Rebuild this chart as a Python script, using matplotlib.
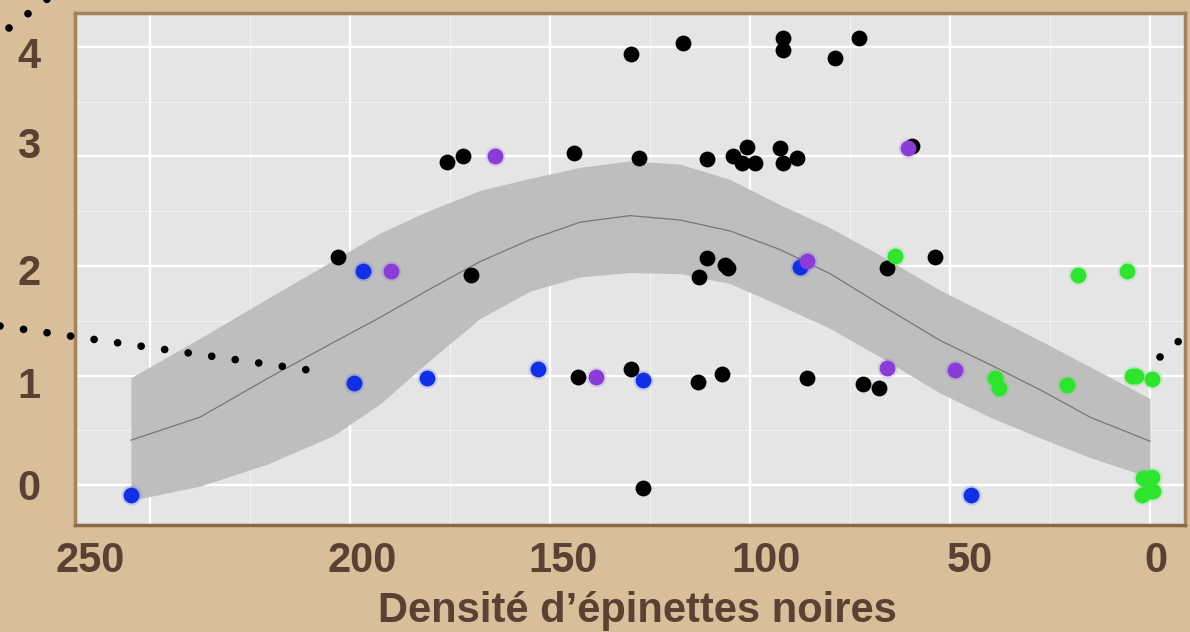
import numpy as np
import matplotlib; matplotlib.use("Agg")
import matplotlib.pyplot as plt
from matplotlib.lines import Line2D

# --- data ------------------------------------------------------------------
black_x = [129.75, 116.75, 91.75, 91.75, 78.75, 72.75,
           175.75, 171.75, 144, 127.75, 110.75, 104.25, 100.75, 102, 98.75, 92.5, 91.75, 88.25, 59.5,
           203, 169.75, 110.75, 112.75, 106.25, 105.5, 65.75, 53.75,
           143, 129.75, 113, 107, 85.75, 71.75, 67.75,
           126.75]
black_y = [3.94, 4.04, 4.08, 3.97, 3.90, 4.08,
           2.95, 3.00, 3.03, 2.99, 2.98, 3.00, 3.09, 2.94, 2.94, 3.08, 2.94, 2.99, 3.10,
           2.08, 1.92, 2.07, 1.90, 2.01, 1.98, 1.98, 2.08,
           0.99, 1.06, 0.94, 1.01, 0.98, 0.92, 0.89,
           -0.03]
blue_x = [254.75, 196.75, 199, 180.75, 153, 126.75, 87.5, 44.75]
blue_y = [-0.09, 1.95, 0.93, 0.98, 1.06, 0.96, 1.99, -0.09]
purple_x = [189.75, 163.75, 138.5, 85.75, 65.75, 60.5, 48.75]
purple_y = [1.95, 3.00, 0.99, 2.05, 1.07, 3.08, 1.05]
green_x = [63.75, 18, 5.75, 38.75, 37.75, 20.75, 4.5, 3.5, -0.5, 1.75, -0.5, 0.5, 2, -0.75]
green_y = [2.09, 1.92, 1.95, 0.98, 0.89, 0.91, 1.00, 1.00, 0.97, 0.06, 0.07, -0.05, -0.09, -0.05]

# fitted curve and its confidence band
fit_x = [254.75, 237.5, 220.75, 204.25, 192.5, 180, 167.5, 155, 142.5, 130,
         117.5, 105, 92.5, 80, 67.5, 52.5, 40, 27.5, 15, 0]
fit_mid = [0.41, 0.62, 0.97, 1.30, 1.53, 1.79, 2.04, 2.24, 2.40, 2.46,
           2.42, 2.32, 2.15, 1.93, 1.65, 1.32, 1.10, 0.87, 0.62, 0.40]
fit_hi = [0.98, 1.34, 1.70, 2.05, 2.30, 2.51, 2.69, 2.80, 2.90, 2.96,
          2.93, 2.79, 2.56, 2.35, 2.10, 1.78, 1.55, 1.32, 1.08, 0.79]
fit_lo = [-0.14, -0.01, 0.19, 0.45, 0.74, 1.14, 1.52, 1.77, 1.90, 1.94,
          1.93, 1.84, 1.64, 1.43, 1.17, 0.84, 0.62, 0.43, 0.25, 0.07]

x_labels = ['250', '200', '150', '100', '50', '0']
y_labels = ['0', '1', '2', '3', '4']

# --- figure -----------------------------------------------------------------
W, H = 1190, 632
brown = '#5C4033'
font = ['Liberation Sans Narrow', 'Liberation Sans', 'DejaVu Sans']

fig = plt.figure(figsize=(W / 100, H / 100), dpi=100)
fig.patch.set_facecolor('#D8BE99')
ax = fig.add_axes([75 / W, 1 - 525 / H, 1110 / W, 512 / H])
ax.set_facecolor('#E5E5E5')
ax.set_xlim(268.75, -8.75)
ax.set_ylim(-0.365, 4.31)

ax.set_xticks([250, 200, 150, 100, 50, 0])
ax.set_xticks([225, 175, 125, 75, 25], minor=True)
ax.set_yticks([0, 1, 2, 3, 4])
ax.set_yticks([0.5, 1.5, 2.5, 3.5], minor=True)
ax.tick_params(which='both', length=0, labelbottom=False, labelleft=False)
ax.grid(which='major', color='white', lw=1.7)
ax.grid(which='minor', color='white', lw=0.7, alpha=0.6)
ax.set_axisbelow(True)
for s in ax.spines.values():
    s.set_color('#A4835A'); s.set_linewidth(2.5)
ax.spines['bottom'].set_color('#8A6A45')

ax.fill_between(fit_x, fit_lo, fit_hi, color='#BEBEBE', lw=0, zorder=1.5)
ax.plot(fit_x, fit_mid, color='#777777', lw=0.9, zorder=1.6)

groups = [(black_x, black_y, '#000000', False), (blue_x, blue_y, '#1030E8', True),
          (purple_x, purple_y, '#8B3CD8', True), (green_x, green_y, '#2CE52C', True)]
for gx, gy, c, glow in groups:
    if glow:
        ax.scatter(gx, gy, s=210, color=c, alpha=0.15, lw=0, zorder=2.5)
    ax.scatter(gx, gy, s=130, color=c, lw=0, zorder=3)

# tick labels and axis title as placed on the slide
for lab, px in zip(x_labels, [90, 362, 563, 766, 970, 1156]):
    fig.text(px / W, 1 - 572 / H, lab, ha='center', va='baseline', fontsize=30,
             fontweight='bold', color=brown, family=font)
for lab, py in zip(y_labels, [500, 398, 285, 158, 68]):
    fig.text(29 / W, 1 - py / H, lab, ha='center', va='baseline', fontsize=30,
             fontweight='bold', color=brown, family=font)
fig.text(637 / W, 1 - 622 / H, 'Densité d’épinettes noires', ha='center', va='baseline',
         fontsize=30, fontweight='bold', color=brown, family=font)

# dotted pointer lines
for (x0, y0), (x1, y1) in [((9, 28), (62, -12)), ((0, 326), (308, 370)), ((1160, 357), (1192, 330))]:
    fig.add_artist(Line2D([x0 / W, x1 / W], [1 - y0 / H, 1 - y1 / H], color='black', lw=5.5,
                          dashes=(0.01, 3.1), dash_capstyle='round'))

fig.savefig('out.png', dpi=100, facecolor=fig.get_facecolor())
